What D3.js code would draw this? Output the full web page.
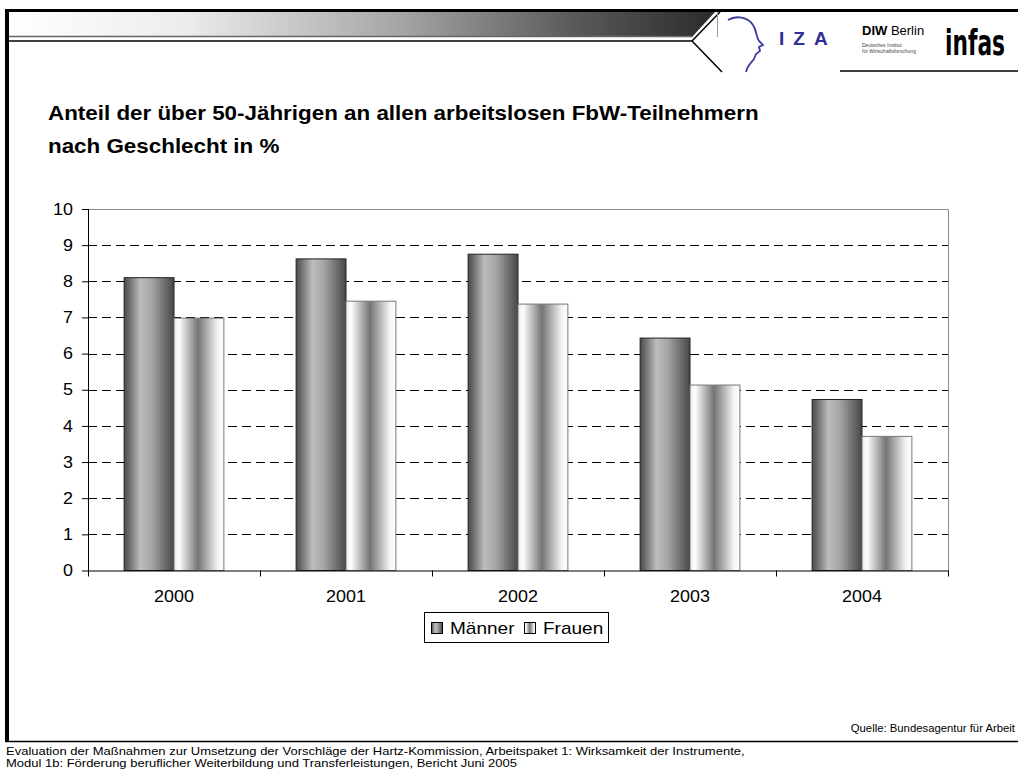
<!DOCTYPE html>
<html>
<head>
<meta charset="utf-8">
<script src="https://cdn.jsdelivr.net/npm/d3@7"></script>
<style>
  body { margin: 0; background: #fff; }
  svg { display: block; font-family: "Liberation Sans", Arial, sans-serif; }
</style>
</head>
<body>
<svg id="chart"></svg>
<script>
const years = ['2000', '2001', '2002', '2003', '2004'];
const seriesNames = ['Männer', 'Frauen'];
const maenner = [8.1, 8.62, 8.75, 6.43, 4.73];
const frauen = [6.98, 7.45, 7.37, 5.13, 3.71];
const yTicks = [0, 1, 2, 3, 4, 5, 6, 7, 8, 9, 10];

const width = 1018;
const height = 772;
const stretchX = 1.12; // slide text is rendered a bit wider than Arial

const svg = d3.select('#chart')
    .attr('width', width)
    .attr('height', height);

const defs = svg.append('defs');

// widen text horizontally around its anchor point
function widen(selection, k = stretchX) {
    selection.each(function() {
        const t = d3.select(this);
        const tx = +t.attr('x') || 0;
        const ty = +t.attr('y') || 0;
        t.attr('x', 0).attr('y', 0)
            .attr('transform', `translate(${tx},${ty}) scale(${k},1)`);
    });
}

// gradients used by bars, legend and header
function addGradient(id, stops) {
    const g = defs.append('linearGradient')
        .attr('id', id)
        .attr('x1', '0%').attr('x2', '100%')
        .attr('y1', '0%').attr('y2', '0%');
    stops.forEach(s => g.append('stop').attr('offset', s[0]).attr('stop-color', s[1]));
}
addGradient('gradM', [['0%', '#4a4a4a'], ['33%', '#bdbdbd'], ['55%', '#a6a6a6'], ['100%', '#474747']]);
addGradient('gradF', [['0%', '#e8e8e8'], ['10%', '#ffffff'], ['48%', '#747474'], ['88%', '#f4f4f4'], ['100%', '#ffffff']]);
addGradient('gradHead', [['0%', '#ffffff'], ['25%', '#ececec'], ['55%', '#a6a6a6'], ['80%', '#5a5a5a'], ['100%', '#2b2b2b']]);

// ---------- slide frame ----------
const frame = svg.append('g');

frame.append('polygon')
    .attr('points', '9,12 715,12 692,37 9,37')
    .attr('fill', 'url(#gradHead)');
frame.append('line')
    .attr('x1', 9).attr('x2', 693).attr('y1', 36.5).attr('y2', 36.5)
    .attr('stroke', '#666').attr('stroke-width', 1.5);
frame.append('polyline')
    .attr('points', '9,41 692,41 722,72')
    .attr('fill', 'none').attr('stroke', '#000').attr('stroke-width', 1.5);
frame.append('line')
    .attr('x1', 692).attr('y1', 41).attr('x2', 720).attr('y2', 12)
    .attr('stroke', '#000').attr('stroke-width', 1.5);
frame.append('line')
    .attr('x1', 717.5).attr('x2', 717.5).attr('y1', 12).attr('y2', 37)
    .attr('stroke', '#999').attr('stroke-width', 1);

frame.append('rect').attr('x', 5).attr('y', 9).attr('width', 1013).attr('height', 3).attr('fill', '#000');
frame.append('rect').attr('x', 5).attr('y', 9).attr('width', 4).attr('height', 733).attr('fill', '#000');
frame.append('line')
    .attr('x1', 5).attr('x2', 1018).attr('y1', 741.5).attr('y2', 741.5)
    .attr('stroke', '#000').attr('stroke-width', 1.5);

// logos
const logos = svg.append('g');
logos.append('path')
    .attr('d', 'M728,20 C736,15 748,17 753,25 C757,31 756,37 759,41 L763,45 L759,47 L760,51 L756,54 L754,59 C751,63 747,66 746,72')
    .attr('fill', 'none').attr('stroke', '#3a3a9e').attr('stroke-width', 1.8);
logos.append('text')
    .attr('x', 779).attr('y', 45)
    .attr('font-size', 19).attr('font-weight', 'bold')
    .attr('letter-spacing', 9)
    .attr('fill', '#2e3192')
    .text('IZA');
const diw = logos.append('text')
    .attr('x', 862).attr('y', 35)
    .attr('font-size', 13);
diw.append('tspan').attr('font-weight', 'bold').text('DIW');
diw.append('tspan').text(' Berlin');
logos.append('text')
    .attr('x', 862).attr('y', 47)
    .attr('font-size', 5).attr('fill', '#444')
    .text('Deutsches Institut');
logos.append('text')
    .attr('x', 862).attr('y', 53)
    .attr('font-size', 5).attr('fill', '#444')
    .text('für Wirtschaftsforschung');
const infas = logos.append('text')
    .attr('x', 945).attr('y', 55)
    .attr('font-family', '"DejaVu Sans Condensed", "Liberation Sans Narrow", sans-serif')
    .attr('font-size', 36).attr('font-weight', 'bold')
    .text('infas');
// squeeze the wordmark into about 60px
infas.call(widen, 60 / infas.node().getComputedTextLength());
logos.append('line')
    .attr('x1', 840).attr('x2', 1018).attr('y1', 71).attr('y2', 71)
    .attr('stroke', '#000').attr('stroke-width', 1.5);

// ---------- title ----------
const titleLines = ['Anteil der über 50-Jährigen an allen arbeitslosen FbW-Teilnehmern', 'nach Geschlecht in %'];
svg.append('g').selectAll('text')
    .data(titleLines)
    .enter().append('text')
    .attr('x', 48)
    .attr('y', (d, i) => 120 + i * 33)
    .attr('font-size', 20).attr('font-weight', 'bold')
    .text(d => d)
    .call(widen);

// ---------- chart ----------
const plot = { left: 88, right: 948, top: 209, bottom: 570.5 };

const x = d3.scaleBand()
    .domain(years)
    .range([plot.left, plot.right]);

const xSub = d3.scaleBand()
    .domain(seriesNames)
    .range([x.bandwidth() * 0.21, x.bandwidth() * 0.79]);

const y = d3.scaleLinear()
    .domain([0, 10])
    .range([plot.bottom, plot.top]);

const chart = svg.append('g');

// dashed grid
chart.append('g')
    .selectAll('line')
    .data(yTicks.filter(d => d > 0 && d < 10))
    .enter().append('line')
    .attr('x1', plot.left).attr('x2', plot.right)
    .attr('y1', d => Math.round(y(d)) + 0.5)
    .attr('y2', d => Math.round(y(d)) + 0.5)
    .attr('stroke', '#000')
    .attr('stroke-dasharray', '9,5');

// plot area top and right edge
chart.append('polyline')
    .attr('points', `${plot.left},${Math.round(y(10)) + 0.5} ${plot.right + 0.5},${Math.round(y(10)) + 0.5} ${plot.right + 0.5},${plot.bottom}`)
    .attr('fill', 'none').attr('stroke', '#8c8c8c');

const data = years.map((year, i) => ({ year, values: [
    { key: 'Männer', value: maenner[i] },
    { key: 'Frauen', value: frauen[i] }
] }));

const groups = chart.append('g')
    .selectAll('g')
    .data(data)
    .enter().append('g')
    .attr('transform', d => `translate(${x(d.year)},0)`);

groups.selectAll('rect')
    .data(d => d.values)
    .enter().append('rect')
    .attr('x', d => xSub(d.key))
    .attr('width', xSub.bandwidth())
    .attr('y', d => y(d.value))
    .attr('height', d => y(0) - y(d.value))
    .attr('fill', d => d.key === 'Männer' ? 'url(#gradM)' : 'url(#gradF)')
    .attr('stroke', d => d.key === 'Männer' ? '#222' : '#777')
    .attr('stroke-width', 1);

// y axis
const yAxis = chart.append('g')
    .attr('transform', `translate(${plot.left},0)`)
    .call(d3.axisLeft(y).tickValues(yTicks).tickSize(6).tickPadding(9));
yAxis.selectAll('text')
    .attr('font-size', 16).attr('fill', '#000')
    .attr('font-family', '"Liberation Sans", Arial, sans-serif')
    .call(widen);
yAxis.selectAll('line, path').attr('stroke', '#000');
yAxis.select('.domain').attr('d', `M0.5,${plot.top}V${plot.bottom}`);

// x axis: labels centred, ticks at category boundaries
const xAxis = chart.append('g')
    .attr('transform', `translate(0,${plot.bottom})`)
    .call(d3.axisBottom(x).tickSize(0).tickPadding(20));
xAxis.selectAll('text')
    .attr('font-size', 16).attr('fill', '#000')
    .attr('font-family', '"Liberation Sans", Arial, sans-serif')
    .call(widen);
xAxis.select('.domain').attr('stroke', '#000').attr('d', `M${plot.left},0.5H${plot.right + 1}`);
xAxis.selectAll('.boundary')
    .data(years.map(d => x(d)).concat([plot.right]))
    .enter().append('line')
    .attr('x1', d => Math.round(d) + 0.5).attr('x2', d => Math.round(d) + 0.5)
    .attr('y1', 0).attr('y2', 6)
    .attr('stroke', '#000');

// legend
const legend = svg.append('g').attr('transform', 'translate(424,612)');
legend.append('rect')
    .attr('x', 0.5).attr('y', 0.5).attr('width', 184).attr('height', 30)
    .attr('fill', '#fff').attr('stroke', '#000');
const legendX = [7, 100];
const legendItems = legend.selectAll('.item')
    .data(seriesNames)
    .enter().append('g')
    .attr('transform', (d, i) => `translate(${legendX[i]},0)`);
legendItems.append('rect')
    .attr('x', 0.5).attr('y', 10.5).attr('width', 11).attr('height', 11)
    .attr('fill', d => d === 'Männer' ? 'url(#gradM)' : 'url(#gradF)')
    .attr('stroke', '#000');
legendItems.append('text')
    .attr('x', 19).attr('y', 22)
    .attr('font-size', 17)
    .text(d => d)
    .call(widen);

// source and footer
svg.append('text')
    .attr('x', 1015).attr('y', 732)
    .attr('text-anchor', 'end')
    .attr('font-size', 11)
    .text('Quelle: Bundesagentur für Arbeit')
    .call(widen, 1.03);

const footerLines = [
    'Evaluation der Maßnahmen zur Umsetzung der Vorschläge der Hartz-Kommission, Arbeitspaket 1: Wirksamkeit der Instrumente,',
    'Modul 1b: Förderung beruflicher Weiterbildung und Transferleistungen, Bericht Juni 2005'
];
svg.append('g').selectAll('text')
    .data(footerLines)
    .enter().append('text')
    .attr('x', 6)
    .attr('y', (d, i) => 755 + i * 12)
    .attr('font-size', 11.5)
    .text(d => d)
    .call(widen, 1.13);
</script>
</body>
</html>
